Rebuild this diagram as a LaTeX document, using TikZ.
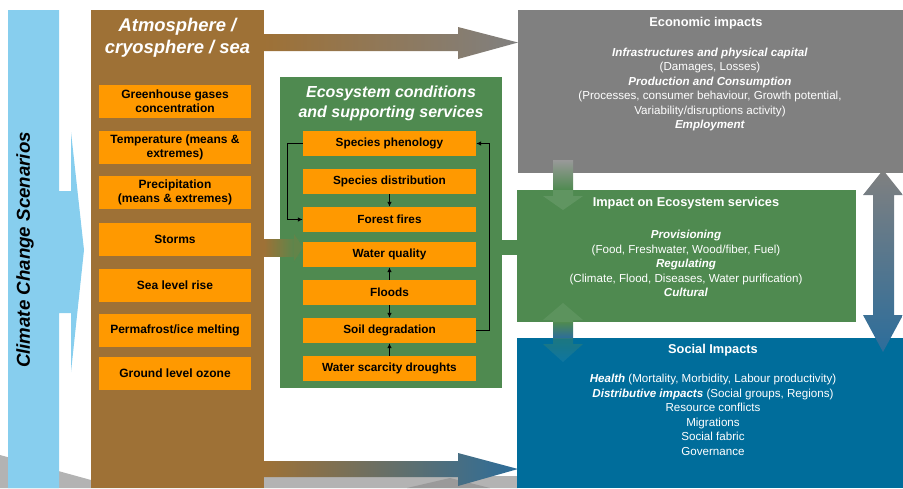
\documentclass[tikz,border=0pt]{standalone}
\usepackage{fontspec}
\setmainfont{Liberation Sans}
\usetikzlibrary{arrows.meta}
\definecolor{cblue}{HTML}{87CEEE}
\definecolor{cbrown}{HTML}{9E7136}
\definecolor{corange}{HTML}{FF9900}
\definecolor{cgreen}{HTML}{4F8A50}
\definecolor{cgray}{HTML}{808080}
\definecolor{csblue}{HTML}{006D9B}
\definecolor{cfloor}{HTML}{B3B3B3}
\definecolor{cfloord}{HTML}{9A9A9A}
\definecolor{carrowblue}{HTML}{2C6D9B}
\tikzset{
  obox/.style={fill=corange, minimum width=152pt, minimum height=33pt, inner sep=0pt, align=center,
    font=\bfseries\fontsize{12}{14}\selectfont},
  ebox/.style={fill=corange, minimum width=173pt, minimum height=25pt, inner sep=0pt, align=center,
    font=\bfseries\fontsize{11.8}{13}\selectfont},
  conn/.style={line width=0.9pt, -{Latex[length=5pt,width=4.5pt]}},
  wtitle/.style={text=white, font=\bfseries\itshape\fontsize{18.4}{22}\selectfont, align=center},
  etitle/.style={text=white, font=\bfseries\itshape\fontsize{16}{20}\selectfont, align=center},
  rtitle/.style={text=white, font=\bfseries\fontsize{12.8}{14}\selectfont},
  rbody/.style={text=white, align=center, font=\fontsize{11.6}{14.5}\selectfont},
}
\begin{document}
\begin{tikzpicture}[x=1pt,y=-1pt]
\useasboundingbox (0,0) rectangle (903,488);
% floor
\fill[cfloor] (0,455) -- (91,480) -- (264,477) -- (518,476) -- (518,488) -- (0,488) -- cycle;
\fill[cfloord] (407,488) -- (450,478) -- (490,488) -- cycle;
% climate change arrow
\fill[cblue] (8,10) -- (59,10) -- (59,191) -- (71,191) -- (71,132) -- (84,250) -- (71,372) -- (71,313) -- (59,313) -- (59,488) -- (8,488) -- cycle;
\node[rotate=90, font=\bfseries\itshape\fontsize{18.7}{20}\selectfont] (ccs) at (25,250) {Climate Change Scenarios};
% brown column
\fill[cbrown] (91,10) rectangle (264,488);
\node[wtitle] (atm) at (177.5,38) {Atmosphere /\\cryosphere / sea};
\node[obox] (b1) at (175,101.5) {Greenhouse gases\\concentration};
\node[obox] (b2) at (175,147.5) {Temperature (means \&\\extremes)};
\node[obox] (b3) at (175,192.5) {Precipitation\\(means \& extremes)};
\node[obox] (b4) at (175,239.5) {Storms};
\node[obox] (b5) at (175,285.5) {Sea level rise};
\node[obox] (b6) at (175,330.5) {Permafrost/ice melting};
\node[obox] (b7) at (175,373.5) {Ground level ozone};
% right boxes
\fill[cgray] (518,10) rectangle (903,173);
\fill[cgreen] (517,190) rectangle (856,322);
\fill[csblue] (517,338) rectangle (903,488);
% top and bottom arrows
\shade[left color=cbrown, right color=cgray] (264,34) -- (458,34) -- (458,27) -- (518,42.5) -- (458,59) -- (458,51) -- (264,51) -- cycle;
\shade[left color=cbrown, right color=carrowblue] (264,461) -- (458,461) -- (458,453) -- (518,469) -- (458,486) -- (458,477) -- (264,477) -- cycle;
% green ecosystem box
\fill[cgreen] (280,77) rectangle (502,388);
\shade[left color=cbrown, right color=cgreen] (264,239) rectangle (300,256);
\fill[cbrown!25!cgreen] (294,234) -- (303,247.5) -- (294,261) -- cycle;
\fill[cgreen] (502,240) rectangle (517,255);
\node[etitle] (eco) at (391,103) {Ecosystem conditions\\and supporting services};
\node[ebox] (e1) at (389.5,143.5) {Species phenology};
\node[ebox] (e2) at (389.5,181.5) {Species distribution};
\node[ebox] (e3) at (389.5,219.5) {Forest fires};
\node[ebox] (e4) at (389.5,254.5) {Water quality};
\node[ebox] (e5) at (389.5,292.5) {Floods};
\node[ebox] (e6) at (389.5,330.5) {Soil degradation};
\node[ebox] (e7) at (389.5,368.5) {Water scarcity droughts};
\draw[conn] (e2.south) -- (e3.north);
\draw[conn] (e5.north) -- (e4.south);
\draw[conn] (e5.south) -- (e6.north);
\draw[conn] (e7.north) -- (e6.south);
\draw[conn] (e1.west) -- ++(-15,0) |- (e3.west);
\draw[conn] (e6.east) -- ++(13,0) |- (e1.east);
% vertical arrows between right boxes
\shade[top color=cgray!80!white, bottom color=cgreen] (553,160) rectangle (573,190);
\fill[white, opacity=0.1] (553,190) -- (573,190) -- (573,196) -- (583,196) -- (563,210) -- (543,196) -- (553,196) -- cycle;
\shade[top color=cgreen, bottom color=carrowblue] (553,322) rectangle (573,338);
\fill[white, opacity=0.08] (563,303) -- (583,320) -- (573,320) -- (573,322) -- (553,322) -- (553,320) -- (543,320) -- cycle;
\shade[top color=cgreen!60!csblue, bottom color=csblue!90!white, opacity=0.6] (553,338) -- (573,338) -- (573,344) -- (583,344) -- (563,362) -- (543,344) -- (553,344) -- cycle;
% double arrow right
\shade[top color=cgray, bottom color=carrowblue] (883,170) -- (903,195) -- (894,195) -- (894,315) -- (903,315) -- (883,352) -- (863,315) -- (873,315) -- (873,195) -- (863,195) -- cycle;
% texts right
\node[rtitle] (ect) at (706,23) {Economic impacts};
\node[rbody] (ecb) at (710,89.5) {\textbf{\textit{Infrastructures and physical capital}}\\(Damages, Losses)\\\textbf{\textit{Production and Consumption}}\\(Processes, consumer behaviour, Growth potential,\\Variability/disruptions activity)\\\textbf{\textit{Employment}}};
\node[rtitle] (est) at (686,203) {Impact on Ecosystem services};
\node[rbody] (esb) at (686,263.5) {\textbf{\textit{Provisioning}}\\(Food, Freshwater, Wood/fiber, Fuel)\\\textbf{\textit{Regulating}}\\(Climate, Flood, Diseases, Water purification)\\\textbf{\textit{Cultural}}};
\node[rtitle] (sot) at (713,350) {Social Impacts};
\node[rbody] (sob) at (713,415) {\textbf{\textit{Health}} (Mortality, Morbidity, Labour productivity)\\\textbf{\textit{Distributive impacts}} (Social groups, Regions)\\Resource conflicts\\Migrations\\Social fabric\\Governance};
\end{tikzpicture}
\end{document}
